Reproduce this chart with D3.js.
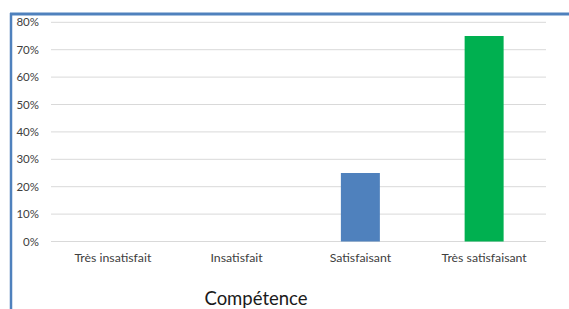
<!DOCTYPE html>
<html>
<head>
<meta charset="utf-8">
<script src="https://cdn.jsdelivr.net/npm/d3@7"></script>
<style>
  body { margin: 0; background: #fff; }
  svg text { font-family: Lato, "Liberation Sans", sans-serif; fill: #404040; font-weight: 400; }
</style>
</head>
<body>
<div id="chart"></div>
<script>
const categories = ['Très insatisfait', 'Insatisfait', 'Satisfaisant', 'Très satisfaisant'];
const values = [0, 0, 0.25, 0.75];
const barColors = ['#4F81BD', '#4F81BD', '#4F81BD', '#00B050'];
const yTicks = [0, 0.1, 0.2, 0.3, 0.4, 0.5, 0.6, 0.7, 0.8];
const axisTitle = 'Compétence';

const width = 569, height = 309;
const plot = { left: 51, right: 546, top: 22.3, bottom: 241.5 };

const svg = d3.select('#chart').append('svg')
    .attr('width', width)
    .attr('height', height);

// frame lines (top + left) like the original pasted chart
svg.append('line')
    .attr('x1', 10).attr('x2', width).attr('y1', 14).attr('y2', 14)
    .attr('stroke', '#4F81BD').attr('stroke-width', 3);
svg.append('line')
    .attr('x1', 11).attr('x2', 11).attr('y1', 13).attr('y2', height)
    .attr('stroke', '#4F81BD').attr('stroke-width', 2.5);

const x = d3.scaleBand()
    .domain(categories)
    .range([plot.left, plot.right])
    .paddingInner(0.685)
    .paddingOuter(0.3425);

const y = d3.scaleLinear()
    .domain([0, 0.8])
    .range([plot.bottom, plot.top]);

// gridlines
svg.append('g')
    .selectAll('line')
    .data(yTicks)
    .join('line')
    .attr('x1', plot.left).attr('x2', plot.right)
    .attr('y1', d => y(d)).attr('y2', d => y(d))
    .attr('stroke', '#d9d9d9').attr('stroke-width', 1);

// y axis labels
const yAxis = svg.append('g')
    .attr('transform', `translate(${plot.left - 12},0)`)
    .call(d3.axisLeft(y).tickValues(yTicks).tickFormat(d3.format('.0%')).tickSize(0).tickPadding(0));
yAxis.select('.domain').remove();
yAxis.selectAll('text').attr('font-size', 11.5).attr('fill', '#404040');

// bars
svg.append('g')
    .selectAll('rect')
    .data(categories.map((c, i) => ({ c, v: values[i], color: barColors[i] })))
    .join('rect')
    .attr('x', d => x(d.c))
    .attr('width', x.bandwidth())
    .attr('y', d => y(d.v))
    .attr('height', d => y(0) - y(d.v))
    .attr('fill', d => d.color);

// x axis labels
const xAxis = svg.append('g')
    .attr('transform', `translate(0,${plot.bottom})`)
    .call(d3.axisBottom(x).tickSize(0).tickPadding(12));
xAxis.select('.domain').remove();
xAxis.selectAll('text').attr('font-size', 12.3).attr('fill', '#404040');

// axis title
svg.append('text')
    .attr('x', 256)
    .attr('y', 305)
    .attr('text-anchor', 'middle')
    .attr('font-size', 18.5)
    .style('fill', '#1a1a1a')
    .text(axisTitle);
</script>
</body>
</html>
